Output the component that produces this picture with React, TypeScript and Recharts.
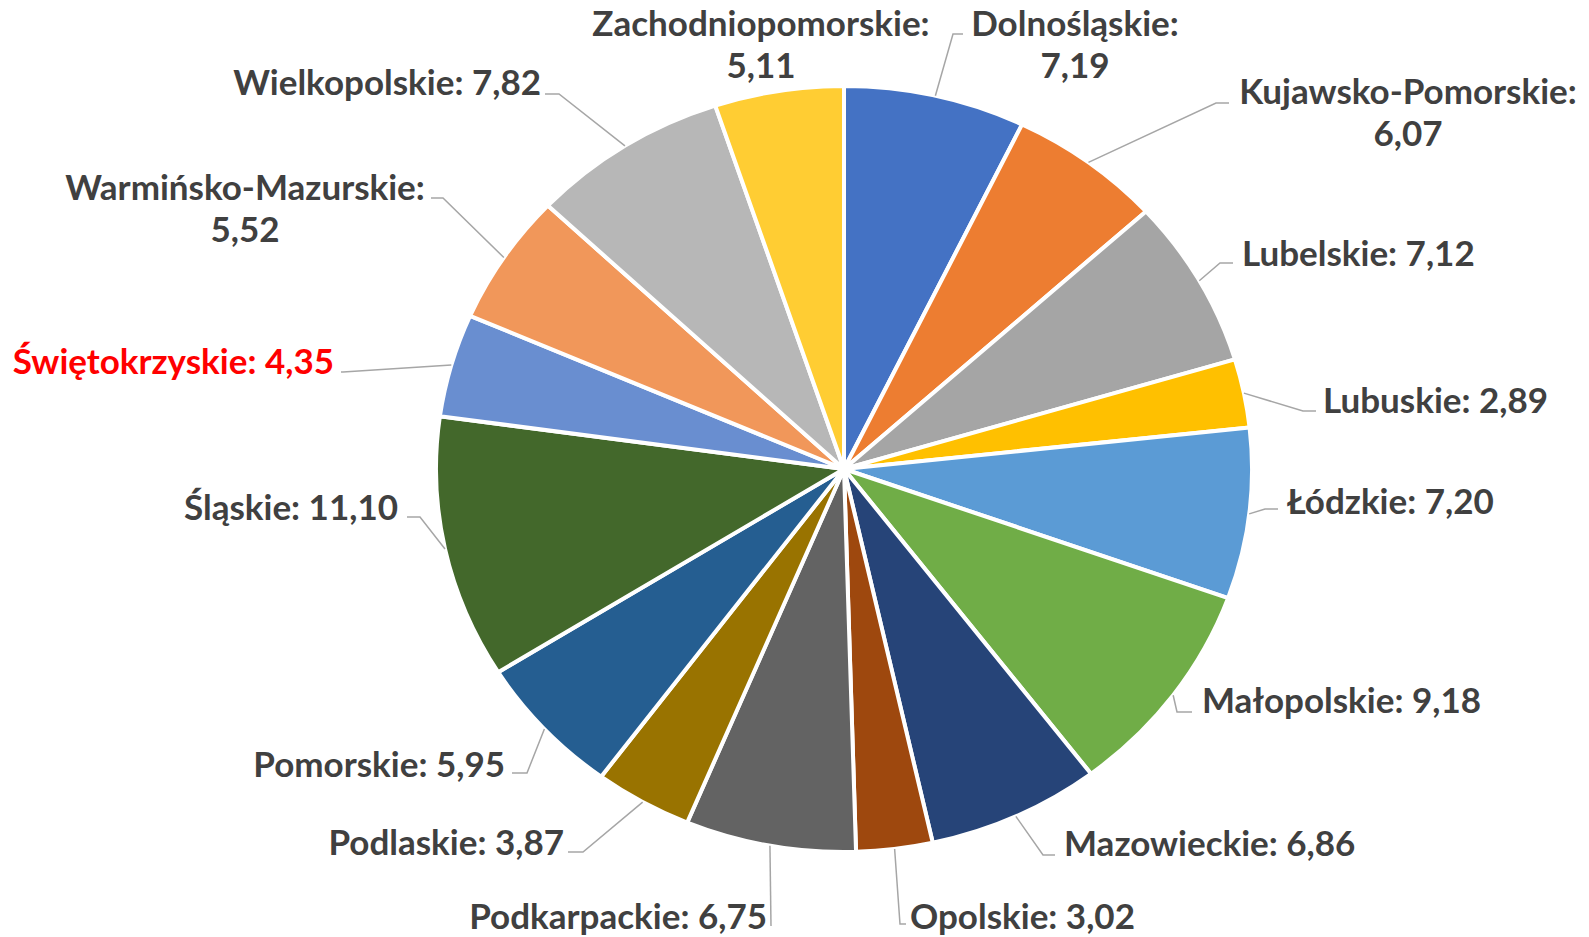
import React from 'react';
import { PieChart, Pie, Cell } from 'recharts';

const regions = [
  'Dolnośląskie',
  'Kujawsko-Pomorskie',
  'Lubelskie',
  'Lubuskie',
  'Łódzkie',
  'Małopolskie',
  'Mazowieckie',
  'Opolskie',
  'Podkarpackie',
  'Podlaskie',
  'Pomorskie',
  'Śląskie',
  'Świętokrzyskie',
  'Warmińsko-Mazurskie',
  'Wielkopolskie',
  'Zachodniopomorskie',
];

const shares = [7.19, 6.07, 7.12, 2.89, 7.2, 9.18, 6.86, 3.02, 6.75, 3.87, 5.95, 11.1, 4.35, 5.52, 7.82, 5.11];

const sliceColors = [
  '#4472C4', '#ED7D31', '#A5A5A5', '#FFC000', '#5B9BD5', '#70AD47', '#264478', '#9E480E',
  '#636363', '#997300', '#255E91', '#43682B', '#698ED0', '#F1975A', '#B7B7B7', '#FFCD33',
];

const highlighted = ['Świętokrzyskie'];

const data = regions.map((name, i) => ({ name, value: shares[i] }));

// layout of labels (text anchor, baseline, leader elbow/end)
type LabelLayout = {
  x: number;
  y: number;
  anchor: 'start' | 'middle' | 'end';
  split: boolean;
  elbow: [number, number] | null;
  end: [number, number] | null;
};
const labelLayout: LabelLayout[] = [
  { x: 1075, y: 36, anchor: 'middle', split: true, elbow: [953, 34], end: [963, 34] },
  { x: 1408, y: 104, anchor: 'middle', split: true, elbow: [1216, 103], end: [1229, 103] },
  { x: 1242, y: 266, anchor: 'start', split: false, elbow: [1220, 263], end: [1233, 263] },
  { x: 1323, y: 413, anchor: 'start', split: false, elbow: [1303, 411], end: [1316, 411] },
  { x: 1287, y: 514, anchor: 'start', split: false, elbow: [1265, 509], end: [1278, 509] },
  { x: 1202, y: 713, anchor: 'start', split: false, elbow: [1177, 712], end: [1192, 712] },
  { x: 1064, y: 856, anchor: 'start', split: false, elbow: [1043, 855], end: [1055, 855] },
  { x: 910, y: 929, anchor: 'start', split: false, elbow: [900, 924], end: [906, 924] },
  { x: 767, y: 929, anchor: 'end', split: false, elbow: [771, 926], end: [771, 926] },
  { x: 564, y: 855, anchor: 'end', split: false, elbow: [583, 852], end: [568, 852] },
  { x: 505, y: 777, anchor: 'end', split: false, elbow: [527, 773], end: [512, 773] },
  { x: 398, y: 520, anchor: 'end', split: false, elbow: [420, 517], end: [407, 517] },
  { x: 334, y: 374, anchor: 'end', split: false, elbow: [343, 372], end: [341, 372] },
  { x: 245, y: 200, anchor: 'middle', split: true, elbow: [443, 198], end: [431, 198] },
  { x: 541, y: 95, anchor: 'end', split: false, elbow: [559, 94], end: [545, 94] },
  { x: 761, y: 36, anchor: 'middle', split: true, elbow: null, end: null },
];

const X_STRETCH = 408 / 383;
const FONT = 'Lato, "Open Sans", sans-serif';
const FONT_SIZE = 35;
const LINE_GAP = 42;

const fmt = (v: number) => v.toFixed(2).replace('.', ',');

const RAD = Math.PI / 180;
const ellPoint = (cx: number, cy: number, r: number, angle: number): [number, number] => [
  cx + r * X_STRETCH * Math.cos(-angle * RAD),
  cy + r * Math.sin(-angle * RAD),
];

const EllipseSector = (props: any) => {
  const { cx, cy, outerRadius, startAngle, endAngle, fill } = props;
  const [x1, y1] = ellPoint(cx, cy, outerRadius, startAngle);
  const [x2, y2] = ellPoint(cx, cy, outerRadius, endAngle);
  const large = Math.abs(endAngle - startAngle) > 180 ? 1 : 0;
  const sweep = endAngle < startAngle ? 1 : 0;
  const d = `M${cx},${cy} L${x1},${y1} A${outerRadius * X_STRETCH},${outerRadius} 0 ${large} ${sweep} ${x2},${y2} Z`;
  return <path d={d} fill={fill} stroke="#FFFFFF" strokeWidth={4} strokeLinejoin="round" />;
};

const renderLabel = (props: any) => {
  const { cx, cy, midAngle, outerRadius, index, name, value } = props;
  const lay = labelLayout[index];
  const color = highlighted.includes(name) ? '#FF0000' : '#404040';
  const [sx, sy] = ellPoint(cx, cy, outerRadius, midAngle);
  const pts: string[] = [];
  if (lay.elbow && lay.end) {
    pts.push(`${sx},${sy}`, `${lay.elbow[0]},${lay.elbow[1]}`, `${lay.end[0]},${lay.end[1]}`);
  }
  return (
    <g key={`lbl-${index}`}>
      {pts.length > 0 && (
        <polyline points={pts.join(' ')} fill="none" stroke="#A6A6A6" strokeWidth={1.5} />
      )}
      {lay.split ? (
        <text x={lay.x} y={lay.y} textAnchor={lay.anchor} fill={color} fontFamily={FONT} fontWeight={700} fontSize={FONT_SIZE}>
          <tspan x={lay.x} y={lay.y}>{`${name}:`}</tspan>
          <tspan x={lay.x} y={lay.y + LINE_GAP}>{fmt(value)}</tspan>
        </text>
      ) : (
        <text x={lay.x} y={lay.y} textAnchor={lay.anchor} fill={color} fontFamily={FONT} fontWeight={700} fontSize={FONT_SIZE}>
          {`${name}: ${fmt(value)}`}
        </text>
      )}
    </g>
  );
};

export default function App() {
  return (
    <div style={{ position: 'absolute', left: 0, top: 0, width: 1589, height: 937, background: '#FFFFFF' }}>
      <PieChart width={1589} height={937} margin={{ top: 0, right: 0, bottom: 0, left: 0 }}>
        <Pie
          data={data}
          dataKey="value"
          nameKey="name"
          cx={844}
          cy={469}
          outerRadius={383}
          startAngle={90}
          endAngle={-270}
          isAnimationActive={false}
          shape={EllipseSector}
          activeShape={EllipseSector}
          inactiveShape={EllipseSector}
          label={renderLabel}
          labelLine={false}
          stroke="#FFFFFF"
          strokeWidth={4}
        >
          {data.map((d, i) => (
            <Cell key={d.name} fill={sliceColors[i]} />
          ))}
        </Pie>
      </PieChart>
    </div>
  );
}
